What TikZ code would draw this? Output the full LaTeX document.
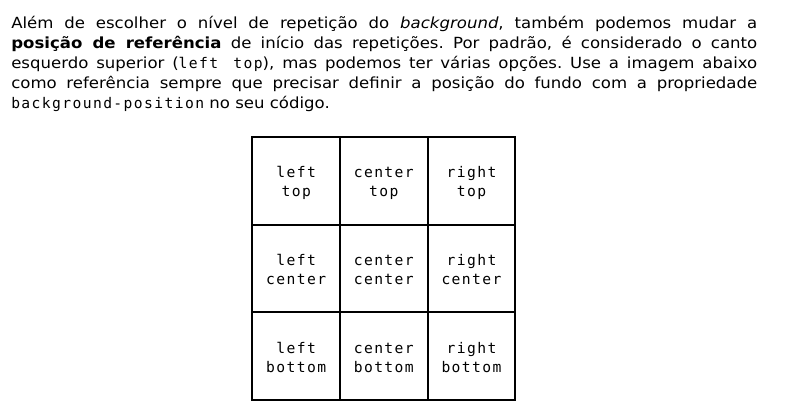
\documentclass[tikz,border=0pt]{standalone}
\usepackage{fontspec}
\newfontfamily\versans[FakeStretch=1.08]{DejaVu Sans}
\newfontfamily\vmono[LetterSpace=9.5]{DejaVu Sans Mono}
\newcommand{\cd}[1]{{\vmono\fontsize{11pt}{14.25pt}\selectfont #1}}
\newcommand{\cl}[2]{\raisebox{0pt}[9.65pt][0pt]{#1}\\\raisebox{0pt}[0pt][0pt]{#2}}
\frenchspacing
\tikzset{
  para/.style={anchor=base west, inner sep=0pt, font=\versans\fontsize{11.5pt}{15pt}\selectfont},
  cell/.style={draw, line width=1.5pt, minimum width=65.75pt, minimum height=65.75pt, inner sep=0pt, align=center,
    font=\vmono\fontsize{11pt}{14.25pt}\selectfont}
}
\begin{document}
\begin{tikzpicture}[x=0.75pt,y=-0.75pt]
\useasboundingbox (0,0) rectangle (809,414);
\fill[white] (0,0) rectangle (809,414);
\def\W{559.5pt}
\node[para] (l1) at (11,28.5) {\makebox[\W][s]{Além de escolher o nível de repetição do \textit{background}, também podemos mudar a}};
\node[para] (l2) at (11,48.5) {\makebox[\W][s]{\textbf{posição de referência} de início das repetições. Por padrão, é considerado o canto}};
\node[para] (l3) at (11,68.5) {\makebox[\W][s]{esquerdo superior (\cd{left top}), mas podemos ter várias opções. Use a imagem abaixo}};
\node[para] (l4) at (11,88.5) {\makebox[\W][s]{como referência sempre que precisar definir a posição do fundo com a propriedade}};
\node[para] (l5) at (11,108) {\cd{background-position} no seu código.};

\node[cell] (lt) at (296.2,180.8) {\cl{left}{top}};
\node[cell] (ct) at (383.8,180.8) {\cl{center}{top}};
\node[cell] (rt) at (471.5,180.8) {\cl{right}{top}};
\node[cell] (lc) at (296.2,268.5) {\cl{left}{center}};
\node[cell] (cc) at (383.8,268.5) {\cl{center}{center}};
\node[cell] (rc) at (471.5,268.5) {\cl{right}{center}};
\node[cell] (lb) at (296.2,356.2) {\cl{left}{bottom}};
\node[cell] (cb) at (383.8,356.2) {\cl{center}{bottom}};
\node[cell] (rb) at (471.5,356.2) {\cl{right}{bottom}};
\end{tikzpicture}
\end{document}
